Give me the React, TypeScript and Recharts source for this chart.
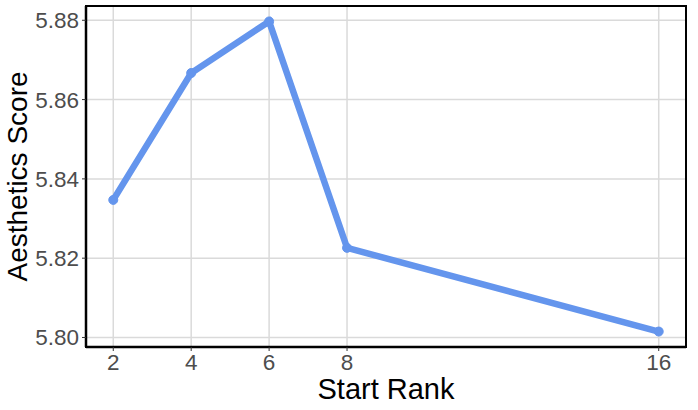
import { LineChart, Line, XAxis, YAxis, CartesianGrid, ReferenceArea, Label } from 'recharts';

const startRanks = [2, 4, 6, 8, 16];
const aestheticsScores = [5.8347, 5.8667, 5.8797, 5.8226, 5.8015];
const yTicks = [5.8, 5.82, 5.84, 5.86, 5.88];
const xDomain: [number, number] = [1.3, 16.7];
const yDomain: [number, number] = [5.7976, 5.8836];

const data = startRanks.map((rank, i) => ({ rank, score: aestheticsScores[i] }));

const FONT = '"Liberation Sans", Arial, sans-serif';
const LINE_BLUE = '#6495ED';

export default function App() {
  return (
    <div style={{ position: 'fixed', left: 0, top: 0, background: '#fff', fontFamily: FONT }}>
      <LineChart width={698} height={410} data={data} margin={{ top: 6, right: 12, left: 0, bottom: 0 }}>
        <CartesianGrid stroke="#dadada" strokeWidth={1.5} />
        <XAxis
          dataKey="rank"
          type="number"
          domain={xDomain}
          ticks={startRanks}
          allowDataOverflow
          height={63}
          tickSize={4}
          tickMargin={3}
          tick={{ fill: '#4d4d4d', fontSize: 22.5, fontFamily: FONT }}
          tickLine={{ stroke: '#333' }}
          axisLine={{ stroke: '#000', strokeWidth: 2.5 }}
        >
          <Label value="Start Rank" position="insideBottom" offset={11} fill="#000" fontSize={29} fontFamily={FONT} />
        </XAxis>
        <YAxis
          type="number"
          domain={yDomain}
          ticks={yTicks}
          allowDataOverflow
          width={86}
          tickSize={4}
          tickMargin={3}
          tickFormatter={(v: number) => v.toFixed(2)}
          tick={{ fill: '#4d4d4d', fontSize: 22.5, fontFamily: FONT }}
          tickLine={{ stroke: '#333' }}
          axisLine={{ stroke: '#000', strokeWidth: 2.5 }}
        >
          <Label
            value="Aesthetics Score"
            angle={-90}
            position="insideLeft"
            offset={17}
            textAnchor="middle"
            fill="#000"
            fontSize={28}
            fontFamily={FONT}
          />
        </YAxis>
        <ReferenceArea
          x1={xDomain[0]}
          x2={xDomain[1]}
          y1={yDomain[0]}
          y2={yDomain[1]}
          fill="none"
          fillOpacity={0}
          stroke="#000"
          strokeWidth={2}
          ifOverflow="visible"
        />
        <Line
          dataKey="score"
          stroke={LINE_BLUE}
          strokeWidth={6.5}
          dot={{ r: 4.5, fill: LINE_BLUE, stroke: LINE_BLUE, strokeWidth: 1 }}
          activeDot={false}
          isAnimationActive={false}
        />
      </LineChart>
    </div>
  );
}
